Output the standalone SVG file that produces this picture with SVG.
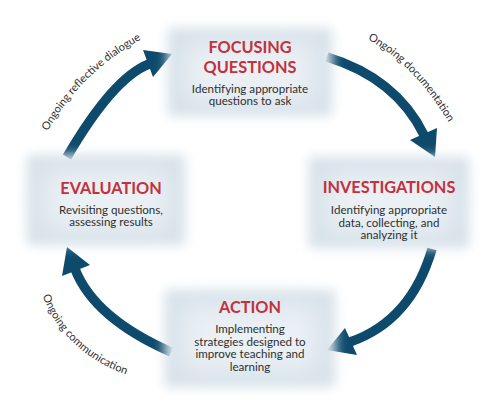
<svg xmlns="http://www.w3.org/2000/svg" width="500" height="406" viewBox="0 0 500 406">
<defs>
<filter id="soft" x="-25%" y="-25%" width="150%" height="150%"><feGaussianBlur stdDeviation="6"/></filter>
<filter id="softer" x="-30%" y="-30%" width="160%" height="160%"><feGaussianBlur stdDeviation="12"/></filter>
<path id="lp1" d="M46,134 Q80,72 144,38"/>
<path id="lp2" d="M367,39 Q414,64 449,123"/>
<path id="lp4" d="M41,292 Q63,353 130,376"/>
</defs>
<style>
.bg{fill:#d6e1e9}
.hi{fill:#eaf0f4}
.title{font-family:Lato,"Open Sans",sans-serif;font-weight:bold;font-size:16.3px;fill:#c2313c;text-anchor:middle}
.body{font-family:Lato,"Open Sans",sans-serif;font-size:11.6px;fill:#2f2f2f;text-anchor:middle}
.lbl{font-family:Lato,"Open Sans",sans-serif;font-size:11px;fill:#2f2f2f;text-anchor:middle}
.shaft{fill:none;stroke:#0d4a6c;stroke-width:9.5}
.head{fill:#0d4a6c}
</style>
<rect width="500" height="406" fill="#ffffff"/>
<g id="connectors">
<path class="shaft" d="M67,157 Q113,78 149,64"/>
<polygon class="head" points="143,50 172,54 153,77"/>
<path class="shaft" d="M327,57 Q396,78 424,135"/>
<polygon class="head" points="410,140 437,128 435,157"/>
<path class="shaft" d="M432,249 Q411,321 350,342"/>
<polygon class="head" points="345,328 327,350 357,355"/>
<path class="shaft" d="M171,352 Q94,318 75,269"/>
<polygon class="head" points="62,276 67,247 90,265"/>
<text class="lbl"><textPath href="#lp1" startOffset="50%">Ongoing reflective dialogue</textPath></text>
<text class="lbl"><textPath href="#lp2" startOffset="50%">Ongoing documentation</textPath></text>
<text class="lbl"><textPath href="#lp4" startOffset="50%">Ongoing communication</textPath></text>
</g>
<g id="focusing">
<rect class="bg" x="168" y="28" width="164" height="88" filter="url(#soft)"/>
<rect class="hi" x="185" y="42" width="130" height="60" filter="url(#softer)"/>
<text class="title" x="250" y="53">FOCUSING</text>
<text class="title" x="250" y="73">QUESTIONS</text>
<text class="body" x="250" y="92.5">Identifying appropriate</text>
<text class="body" x="250" y="105">questions to ask</text>
</g>
<g id="evaluation">
<rect class="bg" x="27" y="155" width="158" height="90" filter="url(#soft)"/>
<rect class="hi" x="44" y="170" width="124" height="60" filter="url(#softer)"/>
<text class="title" x="111" y="194">EVALUATION</text>
<text class="body" x="111" y="213.5">Revisiting questions,</text>
<text class="body" x="111" y="226">assessing results</text>
</g>
<g id="investigations">
<rect class="bg" x="309" y="157" width="160" height="91" filter="url(#soft)"/>
<rect class="hi" x="326" y="172" width="126" height="61" filter="url(#softer)"/>
<text class="title" x="389" y="193">INVESTIGATIONS</text>
<text class="body" x="389" y="214">Identifying appropriate</text>
<text class="body" x="389" y="226.5">data, collecting, and</text>
<text class="body" x="389" y="239">analyzing it</text>
</g>
<g id="action">
<rect class="bg" x="165" y="290" width="170" height="97" filter="url(#soft)"/>
<rect class="hi" x="182" y="305" width="136" height="67" filter="url(#softer)"/>
<text class="title" x="250" y="313">ACTION</text>
<text class="body" x="250" y="333">Implementing</text>
<text class="body" x="250" y="345.5">strategies designed to</text>
<text class="body" x="250" y="358">improve teaching and</text>
<text class="body" x="250" y="370.5">learning</text>
</g>
</svg>
